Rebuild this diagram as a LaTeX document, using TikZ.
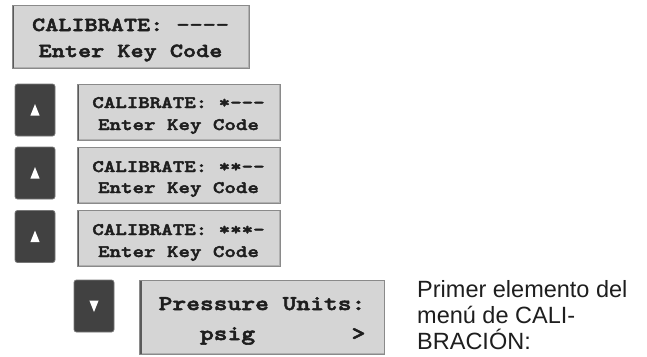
\documentclass[tikz,border=0pt]{standalone}
\usepackage{fontspec}
\setmainfont{Liberation Sans}
\newfontfamily\lcdfont{lmmonolt10-bold.otf}[FakeStretch=1.25, FakeBold=2.6]
\definecolor{lcdfill}{HTML}{D5D5D5}
\definecolor{lcdedge}{HTML}{8A8A8A}
\definecolor{lcdshade}{HTML}{5A5A5A}
\definecolor{lcdlight}{HTML}{B0B0B0}
\definecolor{keyfill}{HTML}{414141}
\definecolor{keyedge}{HTML}{777777}
\definecolor{ink}{HTML}{1E1E1E}
\begin{document}
\begin{tikzpicture}[x=1pt,y=-1pt,
  lcd/.style={rectangle, draw=lcdedge, line width=0.9pt, fill=lcdfill, inner sep=0pt,
    path picture={
      \draw[lcdlight, line width=1.6pt]
        (path picture bounding box.south west) -- (path picture bounding box.south east)
        -- (path picture bounding box.north east);
      \draw[lcdshade, line width=4pt]
        (path picture bounding box.south west) -- (path picture bounding box.north west);
      \draw[lcdshade, line width=2.6pt]
        (path picture bounding box.north west) -- (path picture bounding box.north east);
    }},
  lcdtext/.style={anchor=base, inner sep=0pt, text=ink},
  big/.style={font=\lcdfont\fontsize{20}{24}\selectfont},
  small/.style={font=\lcdfont\fontsize{17.5}{21}\selectfont},
  large/.style={font=\lcdfont\fontsize{21}{25}\selectfont},
  key/.style={rectangle, rounded corners=2.5pt, draw=keyedge, line width=0.8pt,
    fill=keyfill, minimum width=40pt, minimum height=52pt, inner sep=0pt},
  upkey/.style={key, path picture={
      \fill[white, sharp corners] ([shift={(0,-6)}]path picture bounding box.center)
        -- ([shift={(4.6,5.5)}]path picture bounding box.center)
        -- ([shift={(-4.6,5.5)}]path picture bounding box.center) -- cycle;}},
  downkey/.style={key, path picture={
      \fill[white, sharp corners] ([shift={(0,6)}]path picture bounding box.center)
        -- ([shift={(4.6,-5.5)}]path picture bounding box.center)
        -- ([shift={(-4.6,-5.5)}]path picture bounding box.center) -- cycle;}},
  note/.style={anchor=base west, inner sep=0pt, font=\fontsize{23.5}{27}\selectfont, text=ink}
]
\useasboundingbox (0,0) rectangle (647,356);

% starting display
\node[lcd, minimum width=237pt, minimum height=63pt] (d0) at (130.5,36.5) {};
\node[lcdtext, big] (d0a) at (130.5,31) {CALIBRATE: ----};
\node[lcdtext, big] (d0b) at (130.5,57) {Enter Key Code};

% three presses of the up key
\node[upkey] (k1) at (35,110) {};
\node[lcd, minimum width=203pt, minimum height=56pt] (d1) at (178.5,112) {};
\node[lcdtext, small] (d1a) at (178.5,108) {CALIBRATE: *---};
\node[lcdtext, small] (d1b) at (178.5,130) {Enter Key Code};

\node[upkey] (k2) at (35,173) {};
\node[lcd, minimum width=203pt, minimum height=56pt] (d2) at (178.5,175) {};
\node[lcdtext, small] (d2a) at (178.5,172) {CALIBRATE: **--};
\node[lcdtext, small] (d2b) at (178.5,193) {Enter Key Code};

\node[upkey] (k3) at (35,236.5) {};
\node[lcd, minimum width=203pt, minimum height=56pt] (d3) at (178.5,238) {};
\node[lcdtext, small] (d3a) at (178.5,235) {CALIBRATE: ***-};
\node[lcdtext, small] (d3b) at (178.5,257) {Enter Key Code};

% down key leads to the first menu item
\node[downkey] (k4) at (94,306) {};
\node[lcd, minimum width=245pt, minimum height=74pt] (d4) at (262,317) {};
\node[lcdtext, large] (d4a) at (262,310) {Pressure Units:};
\node[lcdtext, large] (d4b) at (262,340) {\phantom{xxx}psig\phantom{xxxxxxx}>};

% explanatory note
\node[note] (n1) at (417,297) {Primer elemento del};
\node[note] (n2) at (417,323) {menú de CALI-};
\node[note] (n3) at (417,349) {BRACIÓN:};
\end{tikzpicture}
\end{document}
